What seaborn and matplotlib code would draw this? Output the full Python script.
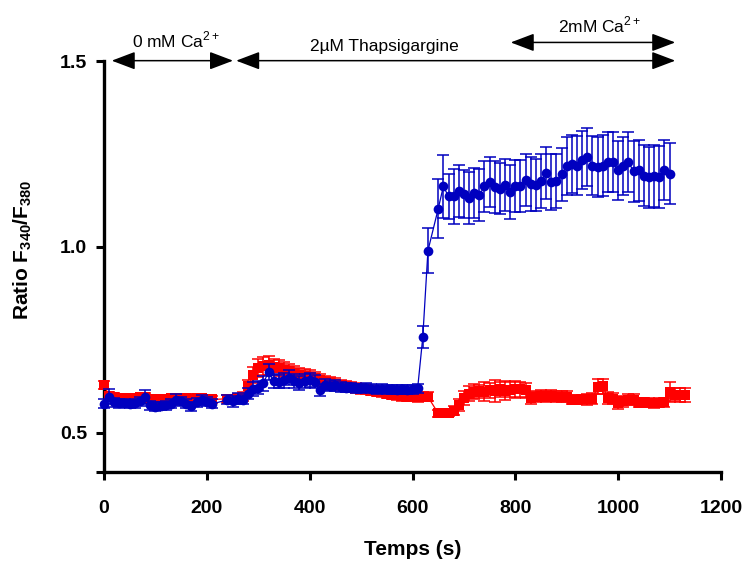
import numpy as np
import pandas as pd
import seaborn as sns
import matplotlib
matplotlib.use("Agg")
import matplotlib.pyplot as plt

# ---- data (time in s, ratio F340/F380, SEM) ----
blue_t = list(range(0, 220, 10)) + list(range(240, 640, 10)) + [650, 660] + list(range(670, 1110, 10))
blue_y = [0.578, 0.597, 0.582, 0.580, 0.580, 0.578, 0.580, 0.585, 0.597, 0.575,
          0.571, 0.572, 0.574, 0.578, 0.589, 0.585, 0.578, 0.572, 0.583, 0.588,
          0.584, 0.578,
          0.589, 0.585, 0.592, 0.589, 0.605, 0.618, 0.622, 0.634, 0.664, 0.640,
          0.638, 0.642, 0.648, 0.640, 0.634, 0.640, 0.642, 0.638, 0.615, 0.630,
          0.626, 0.628, 0.624, 0.622, 0.623, 0.620, 0.620, 0.622, 0.619, 0.618,
          0.619, 0.617, 0.618, 0.616, 0.617, 0.616, 0.618, 0.620, 0.758, 0.990,
          1.103, 1.163,
          1.136, 1.136, 1.150, 1.143, 1.131, 1.145, 1.140, 1.163, 1.175, 1.161,
          1.157, 1.166, 1.148, 1.163, 1.163, 1.181, 1.170, 1.166, 1.178, 1.200,
          1.175, 1.177, 1.195, 1.219, 1.222, 1.219, 1.233, 1.242, 1.219, 1.215,
          1.219, 1.228, 1.228, 1.206, 1.218, 1.228, 1.203, 1.206, 1.192, 1.188,
          1.190, 1.188, 1.208, 1.197]
blue_err = [0.012, 0.020, 0.012, 0.012, 0.010, 0.010, 0.012, 0.012, 0.018, 0.012,
            0.012, 0.010, 0.012, 0.012, 0.015, 0.012, 0.012, 0.012, 0.012, 0.014,
            0.012, 0.012,
            0.012, 0.015, 0.015, 0.012, 0.015, 0.018, 0.018, 0.020, 0.022, 0.018,
            0.018, 0.020, 0.020, 0.018, 0.018, 0.018, 0.018, 0.018, 0.016, 0.015,
            0.014, 0.014, 0.013, 0.013, 0.012, 0.012, 0.012, 0.012, 0.012, 0.012,
            0.012, 0.012, 0.012, 0.012, 0.012, 0.012, 0.012, 0.012, 0.030, 0.060,
            0.080, 0.085,
            0.060, 0.075, 0.070, 0.065, 0.070, 0.068, 0.070, 0.068, 0.067, 0.070,
            0.068, 0.070, 0.072, 0.070, 0.070, 0.070, 0.072, 0.070, 0.072, 0.070,
            0.075, 0.072, 0.072, 0.078, 0.078, 0.080, 0.078, 0.079, 0.080, 0.080,
            0.082, 0.080, 0.080, 0.080, 0.078, 0.080, 0.082, 0.082, 0.082, 0.082,
            0.083, 0.083, 0.081, 0.082]

red_t = list(range(0, 220, 10)) + list(range(240, 640, 10)) + list(range(650, 1140, 10))
red_y = [0.629, 0.600, 0.597, 0.595, 0.595, 0.594, 0.595, 0.596, 0.598, 0.592,
         0.590, 0.590, 0.592, 0.593, 0.594, 0.595, 0.594, 0.592, 0.594, 0.593,
         0.592, 0.590,
         0.592, 0.590, 0.594, 0.598, 0.625, 0.656, 0.675, 0.680, 0.682, 0.678,
         0.675, 0.670, 0.666, 0.661, 0.657, 0.654, 0.651, 0.647, 0.642, 0.638,
         0.635, 0.632, 0.629, 0.627, 0.624, 0.621, 0.619, 0.617, 0.614, 0.611,
         0.609, 0.606, 0.603, 0.601, 0.599, 0.598, 0.597, 0.596, 0.597, 0.597,
         0.553, 0.553, 0.555, 0.560, 0.575, 0.594, 0.605, 0.611, 0.612, 0.611,
         0.615, 0.613, 0.617, 0.614, 0.616, 0.617, 0.617, 0.615, 0.594, 0.597,
         0.600, 0.598, 0.600, 0.598, 0.597, 0.597, 0.589, 0.589, 0.590, 0.590,
         0.592, 0.624, 0.626, 0.594, 0.592, 0.580, 0.585, 0.589, 0.589, 0.581,
         0.582, 0.581, 0.580, 0.581, 0.582, 0.611, 0.603, 0.602, 0.602]
red_err = [0.010, 0.010, 0.010, 0.010, 0.010, 0.010, 0.010, 0.010, 0.010, 0.010,
           0.010, 0.010, 0.010, 0.010, 0.010, 0.010, 0.010, 0.010, 0.010, 0.010,
           0.010, 0.010,
           0.010, 0.010, 0.010, 0.012, 0.018, 0.022, 0.025, 0.025, 0.025, 0.022,
           0.022, 0.020, 0.020, 0.020, 0.018, 0.018, 0.018, 0.016, 0.016, 0.015,
           0.015, 0.015, 0.014, 0.014, 0.014, 0.013, 0.013, 0.013, 0.012, 0.012,
           0.012, 0.012, 0.012, 0.012, 0.012, 0.012, 0.012, 0.012, 0.012, 0.012,
           0.010, 0.010, 0.010, 0.012, 0.015, 0.018, 0.020, 0.020, 0.018, 0.025,
           0.020, 0.030, 0.020, 0.025, 0.020, 0.022, 0.020, 0.020, 0.015, 0.015,
           0.015, 0.015, 0.015, 0.015, 0.015, 0.015, 0.012, 0.012, 0.012, 0.015,
           0.015, 0.020, 0.020, 0.015, 0.015, 0.015, 0.015, 0.015, 0.015, 0.012,
           0.012, 0.012, 0.012, 0.012, 0.012, 0.027, 0.018, 0.018, 0.018]

x_ticks = [0, 200, 400, 600, 800, 1000, 1200]
y_ticks = [0.5, 1.0, 1.5]

RED = "#FF0000"
BLUE = "#0000BF"

sns.set_style("ticks")
plt.rcParams["font.family"] = ["Liberation Sans", "DejaVu Sans"]
plt.rcParams.update({"text.color": "black", "axes.labelcolor": "black",
                     "xtick.color": "black", "ytick.color": "black",
                     "axes.edgecolor": "black"})

blue_df = pd.DataFrame({"t": blue_t, "ratio": blue_y, "sem": blue_err})
red_df = pd.DataFrame({"t": red_t, "ratio": red_y, "sem": red_err})

fig = plt.figure(figsize=(7.52, 5.72), dpi=100)
ax = fig.add_axes([0.1383, 0.1748, 0.8205, 0.7185])

# red series (squares) first, blue on top
ax.errorbar(red_df["t"], red_df["ratio"], yerr=red_df["sem"], fmt="none",
            ecolor=RED, elinewidth=1.1, capsize=4.5, capthick=1.1, zorder=2,
            clip_on=False)
sns.lineplot(data=red_df, x="t", y="ratio", ax=ax, color=RED, marker="s",
             markersize=7, markeredgewidth=0, linewidth=0.9, sort=False,
             errorbar=None, zorder=3, clip_on=False)
ax.errorbar(blue_df["t"], blue_df["ratio"], yerr=blue_df["sem"], fmt="none",
            ecolor=BLUE, elinewidth=1.1, capsize=4.5, capthick=1.1, zorder=4,
            clip_on=False)
sns.lineplot(data=blue_df, x="t", y="ratio", ax=ax, color=BLUE, marker="o",
             markersize=7, markeredgewidth=0, linewidth=0.9, sort=False,
             errorbar=None, zorder=5, clip_on=False)

ax.set_xlim(0, 1200)
ax.set_ylim(0.395, 1.5)
ax.set_xticks(x_ticks)
ax.set_xticklabels([str(v) for v in x_ticks], fontsize=14, fontweight="bold")
ax.set_yticks([0.395] + y_ticks)
ax.set_yticklabels([""] + [f"{v:.1f}" for v in y_ticks], fontsize=14, fontweight="bold")
ax.tick_params(axis="both", width=2.2, length=6, direction="out")
ax.tick_params(axis="x", pad=14)
ax.tick_params(axis="y", pad=6)

sns.despine(ax=ax)
for side in ("left", "bottom"):
    ax.spines[side].set_linewidth(2.4)

ax.set_xlabel("Temps (s)", fontsize=15, fontweight="bold", labelpad=17)
ax.set_ylabel(r"Ratio F$_{\mathregular{340}}$/F$_{\mathregular{380}}$",
              fontsize=15, fontweight="bold")
ax.yaxis.set_label_coords(-0.113, 0.54)

# treatment arrows above the plot
arrow_kw = dict(arrowstyle="<|-|>,head_length=1.45,head_width=0.55",
                color="black", lw=1.1, shrinkA=0, shrinkB=0, mutation_scale=10)
for x0, x1, yy in [(15, 251, 1.501), (257, 1111, 1.501), (791, 1111, 1.55)]:
    ax.annotate("", xy=(x1, yy), xytext=(x0, yy), xycoords="data",
                arrowprops=arrow_kw, annotation_clip=False)

ax.text(141, 1.537, r"0 mM Ca$^{\mathregular{2+}}$", ha="center", va="baseline", fontsize=12.5)
ax.text(545, 1.528, "2µM Thapsigargine", ha="center", va="baseline", fontsize=12.5)
ax.text(965, 1.577, r"2mM Ca$^{\mathregular{2+}}$", ha="center", va="baseline", fontsize=12.5)

fig.savefig("out.png", dpi=100)
